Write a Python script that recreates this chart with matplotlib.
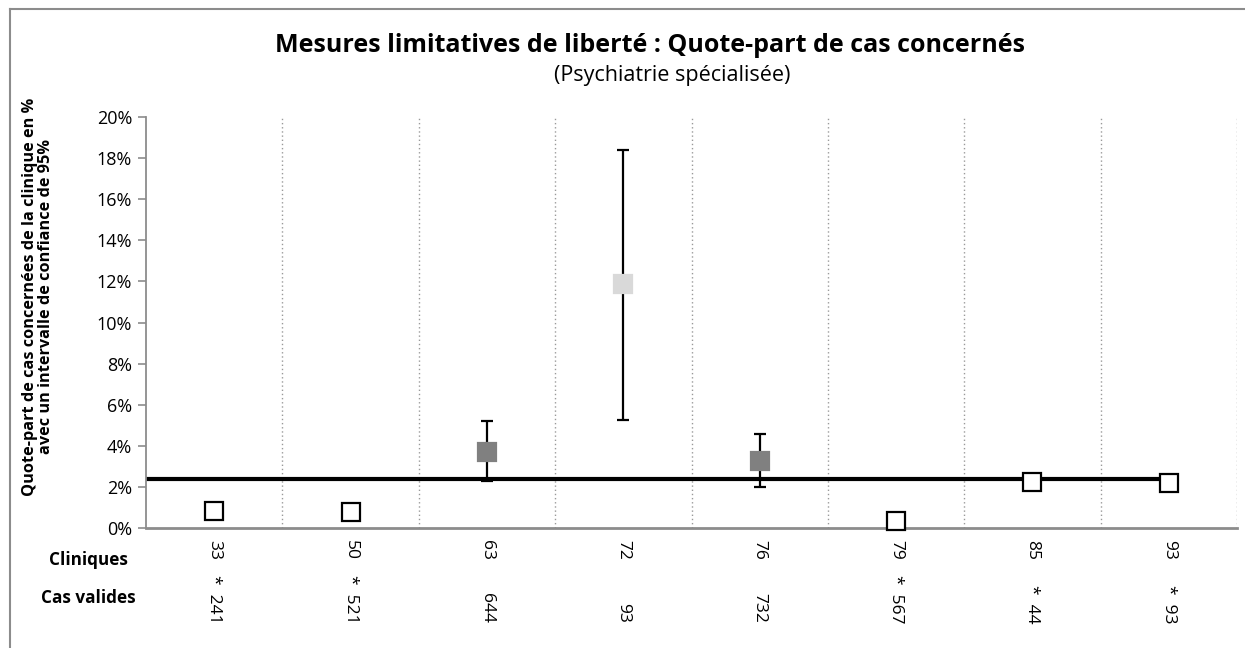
import matplotlib.pyplot as plt
from matplotlib.lines import Line2D
from matplotlib.ticker import FuncFormatter

plt.rcParams['font.family'] = ['Open Sans', 'DejaVu Sans']

# === Data ===
cliniques = ['33', '50', '63', '72', '76', '79', '85', '93']
cas_valides = ['241', '521', '644', '93', '732', '567', '44', '93']
asterisque = [True, True, False, False, False, True, True, True]
quote_part = [0.83, 0.77, 3.72, 11.85, 3.27, 0.33, 2.25, 2.18]
ic_bas = [None, None, 2.3, 5.25, 2.0, None, None, None]
ic_haut = [None, None, 5.2, 18.4, 4.57, None, None, None]
couleurs = ['white', 'white', '#808080', '#d9d9d9', '#808080', 'white', 'white', 'white']
moyenne = 2.38

fig = plt.figure(figsize=(12.45, 6.48), dpi=100)
ax = fig.add_axes([146 / 1245, 1 - 528 / 648, (1237 - 146) / 1245, (528 - 117) / 648])

x = list(range(len(cliniques)))

# average line
ax.plot([-0.5, len(cliniques) - 1], [moyenne, moyenne], color='black', lw=3, zorder=2)

# error bars
for i in x:
    if ic_bas[i] is not None:
        ax.errorbar(i, quote_part[i],
                    yerr=[[quote_part[i] - ic_bas[i]], [ic_haut[i] - quote_part[i]]],
                    fmt='none', ecolor='black', elinewidth=1.6, capsize=4.5,
                    capthick=1.6, zorder=3)

# markers
for i in x:
    edge = 'black' if couleurs[i] == 'white' else couleurs[i]
    ax.plot(i, quote_part[i], marker='s', markersize=12.5, markerfacecolor=couleurs[i],
            markeredgecolor=edge, markeredgewidth=1.6, ls='none', zorder=4, clip_on=False)

ax.set_xlim(-0.5, len(cliniques) - 0.5)
ax.set_ylim(0, 20)
ax.set_yticks(range(0, 21, 2))
ax.yaxis.set_major_formatter(FuncFormatter(lambda v, p: f'{v:.0f}%'))
ax.tick_params(axis='y', labelsize=13, length=6, width=1.2, color='#8c8c8c', pad=4)
ax.set_xticks([])

# dotted separators between clinics
for b in range(1, len(cliniques) + 1):
    ax.axvline(b - 0.5, color='#9a9a9a', lw=1, ls=(0, (1, 2)), zorder=1)

for s in ['top', 'right']:
    ax.spines[s].set_visible(False)
ax.spines['left'].set_color('#8c8c8c')
ax.spines['left'].set_linewidth(1.3)
ax.spines['bottom'].set_color('#8c8c8c')
ax.spines['bottom'].set_linewidth(2)

fig.text(38 / 1245, 1 - 297 / 648,
         'Quote-part de cas concernées de la clinique en %\navec un intervalle de confiance de 95%',
         rotation=90, ha='center', va='center', fontsize=11.7, fontweight='bold',
         linespacing=1.0, multialignment='center')

# category labels below the axis
tr = ax.get_xaxis_transform()
for i in x:
    ax.text(i, -0.028, cliniques[i], transform=tr, rotation=-90, ha='center', va='top',
            fontsize=12.5)
    lab = ('*  ' if asterisque[i] else '') + cas_valides[i]
    ax.text(i, -0.232, lab, transform=tr, rotation=-90, ha='center', va='bottom',
            fontsize=12.5)

fig.text(88 / 1245, 1 - 560 / 648, 'Cliniques', ha='center', va='center',
         fontsize=12.3, fontweight='bold')
fig.text(88 / 1245, 1 - 598 / 648, 'Cas valides', ha='center', va='center',
         fontsize=12.3, fontweight='bold')

fig.text(650 / 1245, 1 - 46 / 648, 'Mesures limitatives de liberté : Quote-part de cas concernés',
         ha='center', va='center', fontsize=18, fontweight='bold')
fig.text(672 / 1245, 1 - 76 / 648, '(Psychiatrie spécialisée)', ha='center', va='center',
         fontsize=15.5)

# chart frame (left and top visible)
fig.add_artist(Line2D([10 / 1245, 10 / 1245], [0, 1 - 9 / 648], transform=fig.transFigure,
                      color='#8c8c8c', lw=1.5))
fig.add_artist(Line2D([10 / 1245, 1], [1 - 9 / 648, 1 - 9 / 648], transform=fig.transFigure,
                      color='#8c8c8c', lw=1.5))

plt.savefig('out.png', dpi=100)
